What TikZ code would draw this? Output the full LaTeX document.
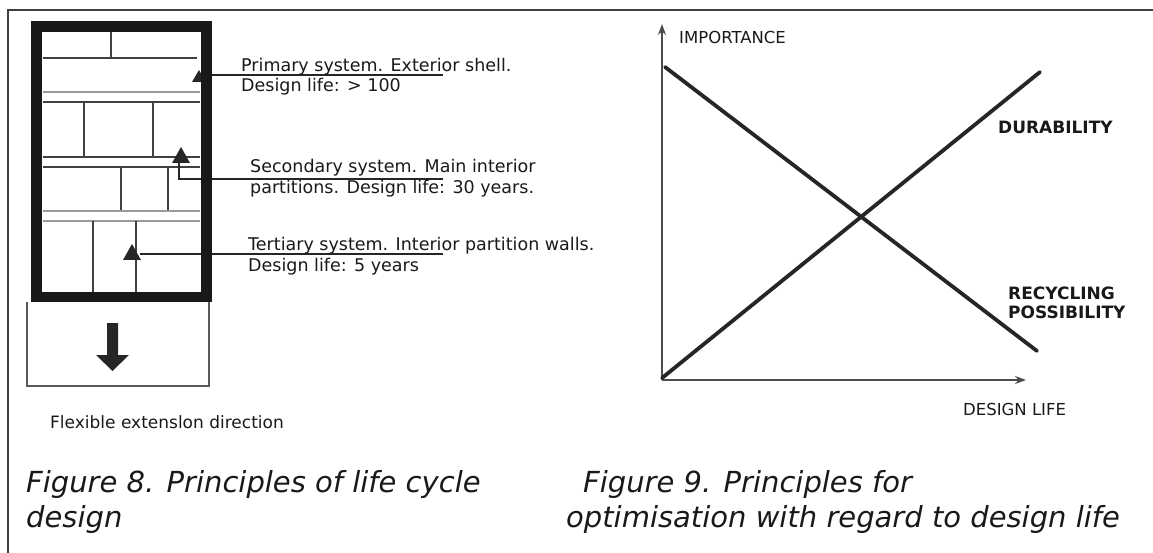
\documentclass[tikz,border=0pt]{standalone}
\usepackage{fontspec}
\setmainfont{DejaVu Sans}
\usetikzlibrary{arrows.meta}
\begin{document}
\begin{tikzpicture}[x=1pt,y=-1pt,
  frameline/.style={line width=1.8pt, draw=black!75},
  wall/.style={line width=10.5pt, draw=black!90},
  part/.style={line width=1.3pt, draw=black!75},
  lightpart/.style={line width=1.2pt, draw=black!40},
  boxline/.style={line width=1.5pt, draw=black!65},
  leader/.style={line width=1.4pt, draw=black!85},
  tri/.style={fill=black!85},
  lbl/.style={anchor=base west, inner sep=0pt, font=\fontsize{17.5}{21}\selectfont, text=black!90},
  axlbl/.style={anchor=base west, inner sep=0pt, font=\fontsize{16.5}{19}\selectfont, text=black!90},
  boldlbl/.style={anchor=base west, inner sep=0pt, font=\fontsize{17}{20}\selectfont\bfseries, text=black!90},
  figcap/.style={anchor=base west, inner sep=0pt, font=\fontsize{29}{35}\selectfont\itshape, text=black!90},
  axis/.style={line width=1.4pt, draw=black!70, -{Stealth[length=11pt,width=8pt]}},
  curve/.style={line width=3.8pt, draw=black!85, line cap=round}]
\useasboundingbox (0,0) rectangle (1153,553);

% outer frame
\draw[frameline] (8,553) -- (8,10) -- (1153,10);

% ---------- Figure 8: building ----------
% interior partitions
\draw[part] (111,31) -- (111,58);
\draw[part] (43,58) -- (197,58);
\draw[lightpart] (43,92) -- (200,92);
\draw[part] (43,102) -- (200,102);
\draw[part] (84,102) -- (84,157);
\draw[part] (153,102) -- (153,157);
\draw[part] (43,157) -- (200,157);
\draw[part] (43,167) -- (200,167);
\draw[part] (121,167) -- (121,211);
\draw[part] (168,167) -- (168,211);
\draw[lightpart] (43,211) -- (200,211);
\draw[lightpart] (43,221) -- (200,221);
\draw[part] (93,221) -- (93,292);
\draw[part] (136,221) -- (136,292);

% markers
\fill[tri] (199,70) -- (206,82) -- (192,82) -- cycle;
\fill[tri] (181,147) -- (190,163) -- (172,163) -- cycle;
\fill[tri] (132,244) -- (141,260) -- (123,260) -- cycle;

% leader lines
\coordinate (pa) at (199,75);
\coordinate (pb) at (443,75);
\coordinate (sa) at (179,162);
\coordinate (sc) at (179,179);
\coordinate (sb) at (443,179);
\coordinate (ta) at (140,254);
\coordinate (tb) at (443,254);
\draw[leader] (pa) -- (pb);
\draw[leader] (sa) -- (sc) -- (sb);
\draw[leader] (ta) -- (tb);

% thick shell
\draw[wall] (36.5,26.5) rectangle (206.5,297);

% extension box
\draw[boxline] (27,302) -- (27,386) -- (209,386) -- (209,302);
\fill[black!85] (107,323) -- (118,323) -- (118,355) -- (129,355) -- (112.5,371) -- (96,355) -- (107,355) -- cycle;

% labels
\node[lbl] (p1) at (241,72) {Primary system. Exterior shell.};
\node[lbl] (p2) at (241,92) {Design life: > 100};
\node[lbl] (s1) at (250,173) {Secondary system. Main interior};
\node[lbl] (s2) at (250,194) {partitions. Design life: 30 years.};
\node[lbl] (t1) at (248,251) {Tertiary system. Interior partition walls.};
\node[lbl] (t2) at (248,271) {Design life: 5 years};
\node[lbl, font=\fontsize{17}{20}\selectfont] (flex) at (50,428) {Flexible extenslon direction};

% ---------- Figure 9: graph ----------
\coordinate (o) at (662,380);
\coordinate (ytop) at (662,24);
\coordinate (xend) at (1026,380);
\draw[axis] (o) -- (ytop);
\draw[axis] (o) -- (xend);
\coordinate (d1) at (665,67);
\coordinate (d2) at (1037,351);
\coordinate (u1) at (662,378);
\coordinate (u2) at (1040,72);
\draw[curve] (d1) -- (d2);
\draw[curve] (u1) -- (u2);

\node[axlbl] (imp) at (679,44) {IMPORTANCE};
\node[boldlbl] (dur) at (998,134) {DURABILITY};
\node[boldlbl] (rec1) at (1008,299) {RECYCLING};
\node[boldlbl] (rec2) at (1008,318) {POSSIBILITY};
\node[axlbl] (dl) at (963,415) {DESIGN LIFE};

% ---------- captions ----------
\node[figcap] (c8a) at (26,492) {Figure 8. Principles of life cycle};
\node[figcap] (c8b) at (26,527) {design};
\node[figcap] (c9a) at (583,492) {Figure 9. Principles for};
\node[figcap] (c9b) at (566,527) {optimisation with regard to design life};
\end{tikzpicture}
\end{document}
